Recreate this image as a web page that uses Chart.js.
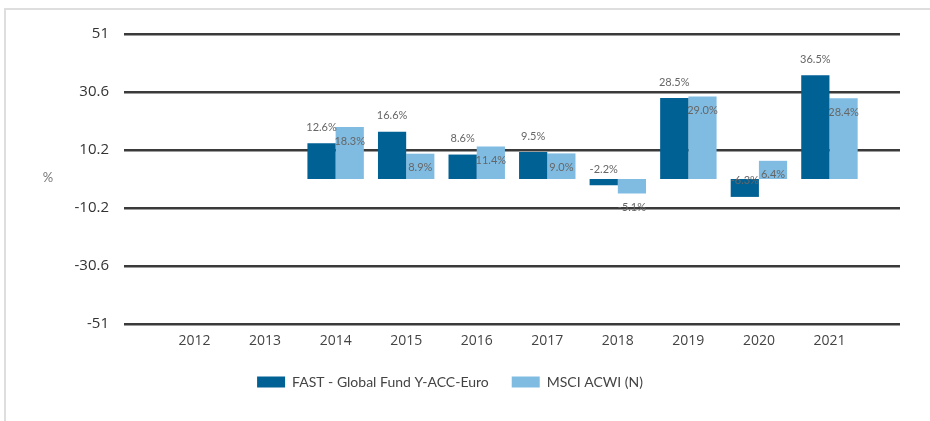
<!DOCTYPE html>
<html>
<head>
<meta charset="utf-8">
<script src="https://cdn.jsdelivr.net/npm/chart.js@4/dist/chart.umd.min.js"></script>
<style>
  html, body { margin: 0; padding: 0; background: #fff; }
  .wrap { position: relative; width: 930px; height: 421px; overflow: hidden; }
  .frame {
    position: absolute; left: 4px; top: 8px; right: 0; bottom: 0;
    border-top: 2px solid #dedede; border-left: 2px solid #dedede;
  }
  canvas { position: absolute; left: 0; top: 0; }
</style>
</head>
<body>
<div class="wrap">
  <div class="frame"></div>
  <canvas id="chart" width="930" height="421"></canvas>
</div>
<script>
// 年度收益数据
const years = ['2012', '2013', '2014', '2015', '2016', '2017', '2018', '2019', '2020', '2021'];
const fundValues = [null, null, 12.6, 16.6, 8.6, 9.5, -2.2, 28.5, -6.3, 36.5];
const indexValues = [null, null, 18.3, 8.9, 11.4, 9.0, -5.1, 29.0, 6.4, 28.4];
const yTicks = [-51, -30.6, -10.2, 10.2, 30.6, 51];
const seriesNames = ['FAST - Global Fund Y-ACC-Euro', 'MSCI ACWI (N)'];

// 两侧各留一个空位，让网格线比柱子区域更宽
const labels = [''].concat(years, ['']);
const pad = arr => [null].concat(arr, [null]);

// 柱顶数值标签
const valueLabels = {
  id: 'valueLabels',
  afterDatasetsDraw(chart) {
    const ctx = chart.ctx;
    const offsets = [-16, 14];
    ctx.save();
    ctx.font = '11px Lato';
    ctx.fillStyle = '#666';
    ctx.textAlign = 'center';
    ctx.textBaseline = 'middle';
    chart.data.datasets.forEach((ds, i) => {
      const meta = chart.getDatasetMeta(i);
      meta.data.forEach((bar, j) => {
        const v = ds.data[j];
        if (v === null || v === undefined) return;
        ctx.fillText(v.toFixed(1) + '%', bar.x, bar.y + offsets[i]);
      });
    });
    // y 轴单位
    const y0 = chart.scales.y.getPixelForValue(0);
    ctx.font = '13px Lato';
    ctx.fillStyle = '#777';
    ctx.fillText('%', 48, y0 - 1);
    ctx.restore();
  }
};

new Chart(document.getElementById('chart'), {
  type: 'bar',
  data: {
    labels: labels,
    datasets: [
      {
        label: seriesNames[0],
        data: pad(fundValues),
        backgroundColor: '#006195',
        categoryPercentage: 0.8,
        barPercentage: 1.0
      },
      {
        label: seriesNames[1],
        data: pad(indexValues),
        backgroundColor: '#80bce2',
        categoryPercentage: 0.8,
        barPercentage: 1.0
      }
    ]
  },
  options: {
    responsive: false,
    animation: false,
    layout: { padding: { left: 0, right: 30, top: 34, bottom: 22 } },
    plugins: {
      legend: {
        position: 'bottom',
        labels: {
          boxWidth: 28,
          boxHeight: 11,
          padding: 23,
          color: '#444',
          font: { family: 'Lato', size: 14 }
        }
      },
      tooltip: { enabled: false }
    },
    scales: {
      x: {
        offset: false,
        grid: { display: false, drawTicks: false },
        border: { display: false },
        ticks: {
          color: '#444',
          padding: 9,
          autoSkip: false,
          maxRotation: 0,
          font: { family: 'Open Sans', size: 14 }
        },
        afterFit(scale) { scale.height = 28; }
      },
      y: {
        min: -51,
        max: 51,
        afterBuildTicks(scale) {
          scale.ticks = yTicks.map(v => ({ value: v }));
        },
        grid: { color: '#3a3a3a', lineWidth: 2.5, drawTicks: false },
        border: { display: false },
        ticks: {
          color: '#333',
          padding: 15,
          font: { family: 'Open Sans', size: 15 },
          callback: v => String(v)
        },
        afterFit(scale) { scale.width = 124; }
      }
    }
  },
  plugins: [valueLabels]
});
</script>
</body>
</html>
